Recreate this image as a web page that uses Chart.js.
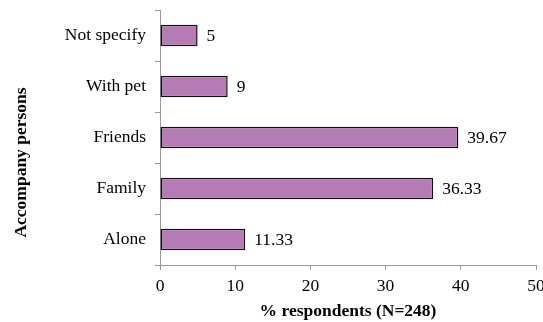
<!DOCTYPE html>
<html>
<head>
<meta charset="utf-8">
<script src="https://cdn.jsdelivr.net/npm/chart.js@4/dist/chart.umd.min.js"></script>
<style>
  html, body { margin: 0; padding: 0; background: #fff; }
  #wrap { width: 543px; height: 322px; }
</style>
</head>
<body>
<div id="wrap"><canvas id="c" width="543" height="322"></canvas></div>
<script>
const categories = ['Not specify', 'With pet', 'Friends', 'Family', 'Alone'];
const percentages = [5, 9, 39.67, 36.33, 11.33];
const xTicks = [0, 10, 20, 30, 40, 50];
const yTitle = 'Accompany persons';
const xTitle = '% respondents (N=248)';

const serif = '"Liberation Serif", "Times New Roman", serif';
const fontSize = 17.5;

// Writes each bar's value just past its end
const valueLabels = {
  id: 'valueLabels',
  afterDatasetsDraw(chart) {
    const ctx = chart.ctx;
    const meta = chart.getDatasetMeta(0);
    ctx.save();
    ctx.font = fontSize + 'px ' + serif;
    ctx.fillStyle = '#000';
    ctx.textAlign = 'left';
    ctx.textBaseline = 'middle';
    meta.data.forEach((bar, i) => {
      ctx.fillText(String(percentages[i]), bar.x + 9, bar.y + 1);
    });
    ctx.restore();
  }
};

// Vertical axis title, set a little below the middle of the plot
const sideTitle = {
  id: 'sideTitle',
  afterDraw(chart) {
    const ctx = chart.ctx;
    const area = chart.chartArea;
    ctx.save();
    ctx.translate(21, (area.top + area.bottom) / 2 + 25);
    ctx.rotate(-Math.PI / 2);
    ctx.font = 'bold ' + fontSize + 'px ' + serif;
    ctx.fillStyle = '#000';
    ctx.textAlign = 'center';
    ctx.textBaseline = 'middle';
    ctx.fillText(yTitle, 0, 0);
    ctx.restore();
  }
};

new Chart(document.getElementById('c'), {
  type: 'bar',
  data: {
    labels: categories,
    datasets: [{
      data: percentages,
      backgroundColor: '#b57bb4',
      borderColor: '#111',
      borderWidth: 1.5,
      borderSkipped: false,
      barPercentage: 0.42,
      categoryPercentage: 1
    }]
  },
  options: {
    indexAxis: 'y',
    responsive: false,
    animation: false,
    layout: { padding: { top: 10, right: 7, left: 0, bottom: 0 } },
    plugins: { legend: { display: false }, tooltip: { enabled: false } },
    scales: {
      x: {
        min: 0, max: 50,
        afterBuildTicks(scale) { scale.ticks = xTicks.map(v => ({ value: v })); },
        afterFit(scale) { scale.height = 57; scale.paddingRight = 0; scale.paddingLeft = 0; },
        grid: { drawOnChartArea: false, drawTicks: true, tickLength: 5, color: '#9a9a9a' },
        border: { color: '#9a9a9a', width: 1 },
        ticks: { color: '#000', font: { family: serif, size: fontSize }, padding: 6, maxRotation: 0 },
        title: { display: true, text: xTitle, color: '#000',
                 font: { family: serif, size: fontSize, weight: 'bold' }, padding: { top: 0, bottom: 0 } }
      },
      y: {
        afterFit(scale) { scale.width = 160; scale.paddingTop = 0; scale.paddingBottom = 0; },
        grid: { drawOnChartArea: false, drawTicks: true, tickLength: 5, color: '#9a9a9a', offset: true },
        border: { color: '#9a9a9a', width: 1 },
        ticks: { color: '#000', font: { family: serif, size: fontSize }, padding: 9 },
        title: { display: false }
      }
    }
  },
  plugins: [valueLabels, sideTitle]
});
</script>
</body>
</html>
